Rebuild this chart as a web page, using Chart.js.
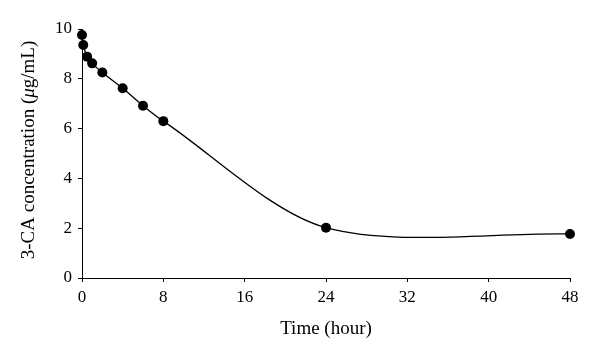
<!DOCTYPE html>
<html>
<head>
<meta charset="utf-8">
<script src="https://cdn.jsdelivr.net/npm/chart.js@4.4.0/dist/chart.umd.min.js"></script>
<style>
html,body{margin:0;padding:0;background:#fff;}
#wrap{width:600px;height:359px;position:relative;}
</style>
</head>
<body>
<div id="wrap"><canvas id="c" width="600" height="359"></canvas></div>
<script>
// Data
const timeHours = [0, 0.125, 0.5, 1, 2, 4, 6, 8, 24, 48];
const concentration = [9.76, 9.36, 8.89, 8.62, 8.25, 7.62, 6.92, 6.3, 2.02, 1.77];
const xTicks = [0, 8, 16, 24, 32, 40, 48];
const yTicks = [0, 2, 4, 6, 8, 10];
const xTitle = "Time (hour)";
const yTitleParts = [["3-CA concentration (", false], ["\u03BC", true], ["g/mL)", false]];

const FONT = "'Liberation Serif', 'DejaVu Serif', serif";
const points = timeHours.map((t, i) => ({x: t, y: concentration[i]}));

const titlesPlugin = {
  id: 'titles',
  afterDraw(chart) {
    const ctx = chart.ctx;
    const ca = chart.chartArea;
    ctx.save();
    ctx.fillStyle = '#000';
    // x title
    ctx.font = "19px " + FONT;
    ctx.textAlign = 'center';
    ctx.textBaseline = 'middle';
    ctx.fillText(xTitle, (ca.left + ca.right) / 2, 329);
    // y title (rotated, with italic mu)
    const fonts = yTitleParts.map(p => (p[1] ? "italic " : "") + "19px " + FONT);
    let total = 0;
    const widths = yTitleParts.map((p, i) => { ctx.font = fonts[i]; const w = ctx.measureText(p[0]).width; total += w; return w; });
    ctx.translate(29, 150);
    ctx.rotate(-Math.PI / 2);
    ctx.textAlign = 'left';
    let x = -total / 2;
    yTitleParts.forEach((p, i) => { ctx.font = fonts[i]; ctx.fillText(p[0], x, 0); x += widths[i]; });
    ctx.restore();
  }
};

new Chart(document.getElementById('c'), {
  type: 'line',
  data: {
    datasets: [{
      data: points,
      borderColor: '#000',
      borderWidth: 1.3,
      backgroundColor: '#000',
      pointBackgroundColor: '#000',
      pointBorderColor: '#000',
      pointRadius: 5,
      pointBorderWidth: 0,
      tension: 0.3,
      fill: false,
      clip: false
    }]
  },
  options: {
    responsive: false,
    animation: false,
    devicePixelRatio: 1,
    layout: {padding: {top: 29, right: 30, left: 0, bottom: 0}},
    plugins: {legend: {display: false}, tooltip: {enabled: false}},
    scales: {
      x: {
        type: 'linear',
        min: 0, max: 48,
        afterBuildTicks(scale) { scale.ticks = xTicks.map(v => ({value: v})); },
        afterFit(scale) { scale.height = 359 - 278; },
        grid: {display: true, drawOnChartArea: false, drawTicks: true, tickLength: 4, color: '#000', lineWidth: 1},
        border: {display: true, color: '#000', width: 1},
        ticks: {color: '#000', font: {family: FONT, size: 17}, padding: 5, maxRotation: 0}
      },
      y: {
        type: 'linear',
        min: 0, max: 10,
        afterBuildTicks(scale) { scale.ticks = yTicks.map(v => ({value: v})); },
        afterFit(scale) { scale.width = 82; },
        grid: {display: true, drawOnChartArea: false, drawTicks: true, tickLength: 4, color: '#000', lineWidth: 1},
        border: {display: true, color: '#000', width: 1},
        ticks: {color: '#000', font: {family: FONT, size: 17}, padding: 6}
      }
    }
  },
  plugins: [titlesPlugin]
});
</script>
</body>
</html>
